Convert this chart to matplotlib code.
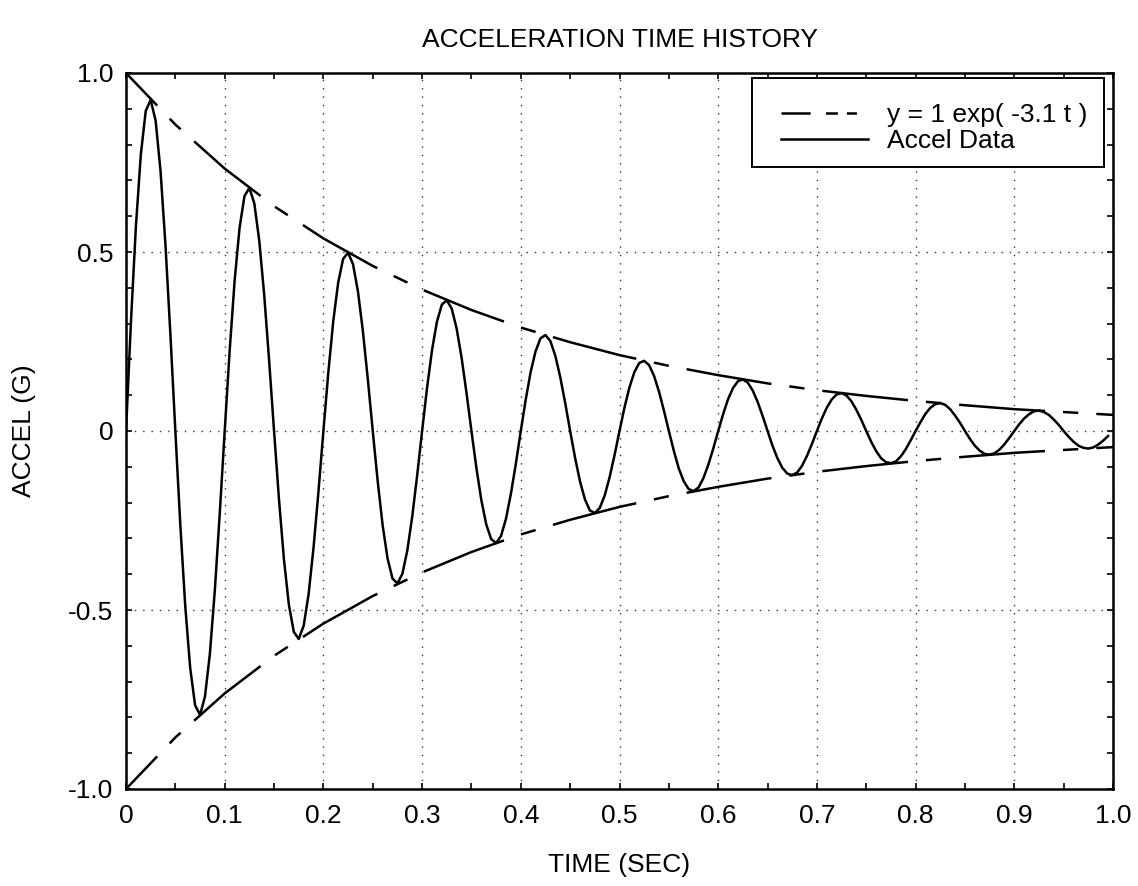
import numpy as np
import matplotlib
matplotlib.use('Agg')
import matplotlib.pyplot as plt
from matplotlib.lines import Line2D
from matplotlib.patches import Rectangle
from matplotlib.ticker import MultipleLocator

plt.rcParams['font.family'] = ['Liberation Sans', 'DejaVu Sans']
plt.rcParams['lines.scale_dashes'] = False

# accel samples, one every 0.005 s
dt = 0.005
accel = [
    0.000, 0.304, 0.570, 0.772, 0.894, 0.925, 0.867, 0.726, 0.519, 0.269,
    0.000, -0.261, -0.488, -0.661, -0.766, -0.793, -0.742, -0.622, -0.445, -0.230,
    0.000, 0.223, 0.418, 0.566, 0.656, 0.679, 0.636, 0.532, 0.381, 0.197,
    0.000, -0.191, -0.358, -0.485, -0.561, -0.581, -0.544, -0.456, -0.326, -0.169,
    0.000, 0.164, 0.307, 0.415, 0.481, 0.498, 0.466, 0.390, 0.279, 0.145,
    0.000, -0.140, -0.263, -0.356, -0.412, -0.426, -0.399, -0.334, -0.239, -0.124,
    0.000, 0.120, 0.225, 0.305, 0.353, 0.365, 0.342, 0.286, 0.205, 0.106,
    0.000, -0.103, -0.193, -0.261, -0.302, -0.313, -0.293, -0.245, -0.175, -0.091,
    0.000, 0.088, 0.165, 0.223, 0.259, 0.268, 0.251, 0.210, 0.150, 0.078,
    0.000, -0.075, -0.141, -0.191, -0.222, -0.229, -0.215, -0.180, -0.129, -0.067,
    0.000, 0.065, 0.121, 0.164, 0.190, 0.196, 0.184, 0.154, 0.110, 0.057,
    0.000, -0.055, -0.104, -0.140, -0.162, -0.168, -0.158, -0.132, -0.094, -0.049,
    0.000, 0.047, 0.089, 0.120, 0.139, 0.144, 0.135, 0.113, 0.081, 0.042,
    0.000, -0.041, -0.076, -0.103, -0.119, -0.123, -0.116, -0.097, -0.069, -0.036,
    0.000, 0.035, 0.065, 0.088, 0.102, 0.106, 0.099, 0.083, 0.059, 0.031,
    0.000, -0.030, -0.056, -0.076, -0.087, -0.090, -0.085, -0.071, -0.051, -0.026,
    0.000, 0.025, 0.048, 0.065, 0.075, 0.078, 0.073, 0.061, 0.043, 0.023,
    0.000, -0.022, -0.041, -0.055, -0.064, -0.066, -0.062, -0.052, -0.037, -0.019,
    0.000, 0.019, 0.035, 0.047, 0.055, 0.057, 0.053, 0.045, 0.032, 0.017,
    0.000, -0.016, -0.030, -0.041, -0.047, -0.049, -0.046, -0.038, -0.027, -0.014,
]

# envelope y = 1 exp(-3.1 t), read every 0.05 s
env_time = [0.00, 0.05, 0.10, 0.15, 0.20, 0.25, 0.30, 0.35, 0.40, 0.45, 0.50,
            0.55, 0.60, 0.65, 0.70, 0.75, 0.80, 0.85, 0.90, 0.95, 1.00]
env_value = [1.000, 0.856, 0.733, 0.628, 0.538, 0.461, 0.395, 0.338, 0.289, 0.248, 0.212,
             0.182, 0.156, 0.133, 0.114, 0.098, 0.084, 0.072, 0.061, 0.053, 0.045]

legend_labels = ['y = 1 exp( -3.1 t )', 'Accel Data']

x_ticks = [0, 0.1, 0.2, 0.3, 0.4, 0.5, 0.6, 0.7, 0.8, 0.9, 1.0]
x_tick_labels = ['0', '0.1', '0.2', '0.3', '0.4', '0.5', '0.6', '0.7', '0.8', '0.9', '1.0']
y_ticks = [-1.0, -0.5, 0, 0.5, 1.0]
y_tick_labels = ['-1.0', '-0.5', '0', '0.5', '1.0']

time = np.arange(len(accel)) * dt
W, H = 1138, 886
fs = 19

fig = plt.figure(figsize=(W / 100, H / 100), dpi=100)
ax = fig.add_axes([126 / W, 1 - 789 / H, 987 / W, 716 / H])

env_dash = (29.5, (62, 13, 11, 13))
ax.plot(env_time, env_value, color='black', lw=1.8, linestyle=env_dash)
ax.plot(env_time, -np.array(env_value), color='black', lw=1.8, linestyle=env_dash)
ax.plot(time, accel, color='black', lw=1.8)

ax.set_xlim(0, 1)
ax.set_ylim(-1, 1)
ax.set_xticks(x_ticks)
ax.set_xticklabels(x_tick_labels)
ax.set_yticks(y_ticks)
ax.set_yticklabels(y_tick_labels)
ax.xaxis.set_minor_locator(MultipleLocator(0.05))
ax.yaxis.set_minor_locator(MultipleLocator(0.1))
ax.tick_params(which='both', direction='in', top=True, right=True,
               length=4, width=1.2, labelsize=fs)
ax.tick_params(axis='x', which='major', pad=11)
ax.tick_params(axis='y', which='major', pad=9)
ax.grid(True, which='major', color='#333333', linestyle=(0, (1, 5)), linewidth=1.0)
for sp in ax.spines.values():
    sp.set_linewidth(1.8)

ax.set_title('ACCELERATION TIME HISTORY', fontsize=fs, pad=19)
ax.set_xlabel('TIME (SEC)', fontsize=fs)
ax.xaxis.set_label_coords(0.5, (789 - 865) / 716)
ax.xaxis.label.set_va('center')
ax.set_ylabel('ACCEL (G)', fontsize=fs)
ax.yaxis.set_label_coords((24 - 126) / 987, 0.5)
ax.yaxis.label.set(va='center', ha='center', rotation_mode='default')

# legend: white box drawn by hand, entries on top
box = Rectangle((752 / W, 1 - 167 / H), 352 / W, 89 / H, transform=fig.transFigure,
                facecolor='white', edgecolor='black', lw=1.4, zorder=5, clip_on=False)
ax.add_artist(box)
handles = [Line2D([], [], color='black', lw=1.8, linestyle=(0, (21, 11, 8.6, 6.5, 7.2, 30))),
           Line2D([], [], color='black', lw=1.8)]
leg = ax.legend(handles, legend_labels, loc='upper left',
                bbox_to_anchor=(781 / W, 1 - 103 / H), bbox_transform=fig.transFigure,
                frameon=False, borderpad=0, borderaxespad=0, handlelength=3.3,
                handletextpad=0.72, labelspacing=0.08, fontsize=fs)
leg.set_zorder(6)

fig.savefig('out.png', dpi=100)
